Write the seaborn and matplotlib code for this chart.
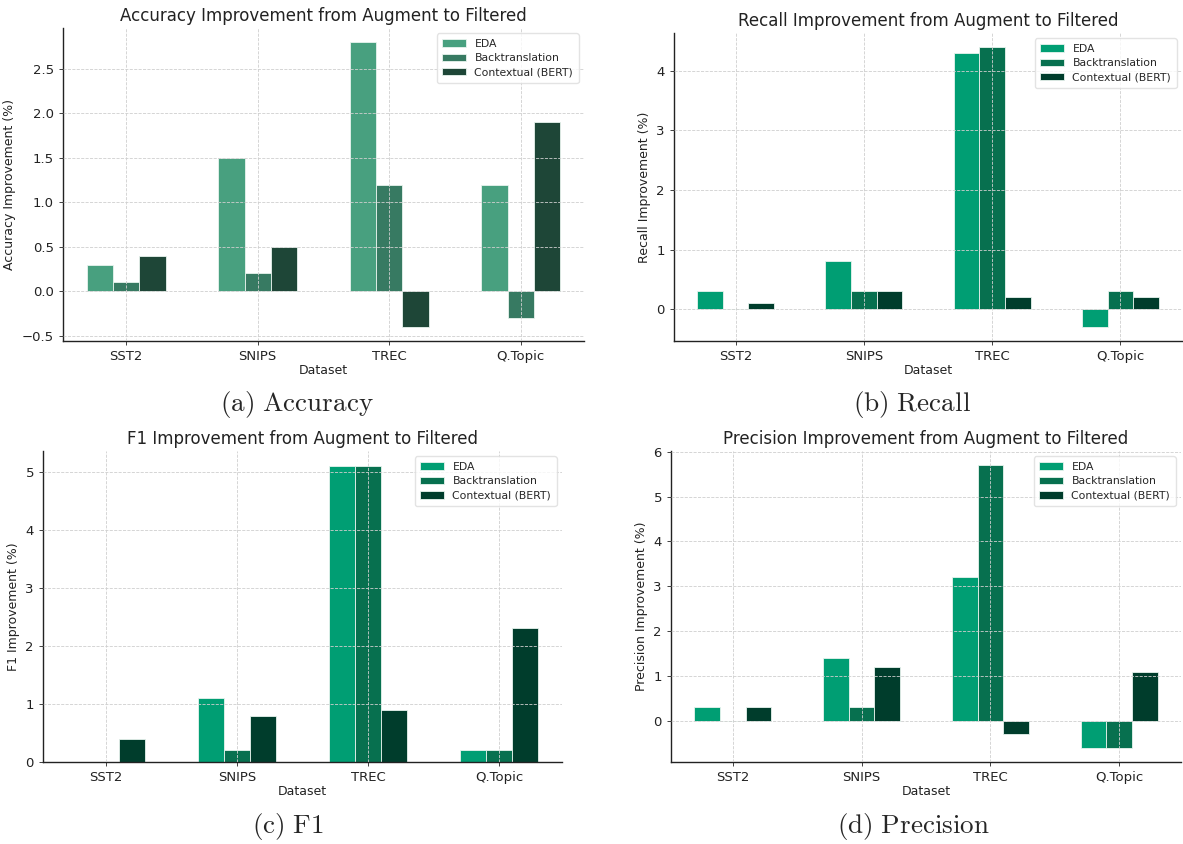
import numpy as np
import pandas as pd
import matplotlib
matplotlib.use("Agg")
import matplotlib.pyplot as plt
import seaborn as sns

# Data
datasets = ["SST2", "SNIPS", "TREC", "Q.Topic"]
methods = ["EDA", "Backtranslation", "Contextual (BERT)"]

acc_eda = [0.3, 1.5, 2.8, 1.2]
acc_bt = [0.1, 0.2, 1.2, -0.3]
acc_bert = [0.4, 0.5, -0.4, 1.9]

rec_eda = [0.3, 0.8, 4.3, -0.3]
rec_bt = [0.0, 0.3, 4.4, 0.3]
rec_bert = [0.1, 0.3, 0.2, 0.2]

f1_eda = [0.0, 1.1, 5.1, 0.2]
f1_bt = [0.0, 0.2, 5.1, 0.2]
f1_bert = [0.4, 0.8, 0.9, 2.3]

prec_eda = [0.3, 1.4, 3.2, -0.6]
prec_bt = [0.0, 0.3, 5.7, -0.6]
prec_bert = [0.3, 1.2, -0.3, 1.1]

acc_colors = ["#48A07F", "#377A62", "#1E4637"]
main_colors = ["#009E73", "#07704F", "#003D2C"]

sns.set_style("ticks")
plt.rcParams["font.family"] = ["DejaVu Sans"]
plt.rcParams["mathtext.fontset"] = "cm"

fig = plt.figure(figsize=(11.83, 8.44), dpi=100)
W, H = 1183, 844


def add_axes(left, right, top, bottom):
    return fig.add_axes([left / W, 1 - bottom / H, (right - left) / W, (bottom - top) / H])


panels = [
    # (box, title, ylabel, series, colors, caption, caption xy)
    ((63, 584, 28, 341), "Accuracy Improvement from Augment to Filtered", "Accuracy Improvement (%)",
     (acc_eda, acc_bt, acc_bert), acc_colors, r"$\mathrm{(a)\ Accuracy}$", (297, 405)),
    ((674, 1182, 33, 341), "Recall Improvement from Augment to Filtered", "Recall Improvement (%)",
     (rec_eda, rec_bt, rec_bert), main_colors, r"$\mathrm{(b)\ Recall}$", (912, 405)),
    ((43, 562, 451, 762), "F1 Improvement from Augment to Filtered", "F1 Improvement (%)",
     (f1_eda, f1_bt, f1_bert), main_colors, r"$\mathrm{(c)\ F1}$", (288, 827)),
    ((671, 1181, 451, 762), "Precision Improvement from Augment to Filtered", "Precision Improvement (%)",
     (prec_eda, prec_bt, prec_bert), main_colors, r"$\mathrm{(d)\ Precision}$", (913, 827)),
]

for box, title, ylabel, series, colors, caption, cxy in panels:
    ax = add_axes(*box)
    df = pd.DataFrame({
        "Dataset": np.tile(datasets, len(methods)),
        "Method": np.repeat(methods, len(datasets)),
        "Value": np.concatenate(series),
    })
    sns.barplot(data=df, x="Dataset", y="Value", hue="Method", hue_order=methods,
                palette=colors, saturation=1, width=0.6, edgecolor="#e8f4ee", linewidth=0.6,
                errorbar=None, ax=ax, zorder=1)
    ax.set_xlim(-0.48, 3.48)
    ax.autoscale(axis="y")
    ax.set_axisbelow(False)
    ax.grid(True, linestyle="--", color="#cfcfcf", linewidth=0.6, zorder=3)
    sns.despine(ax=ax)
    for s in ["left", "bottom"]:
        ax.spines[s].set_linewidth(1.0)
        ax.spines[s].set_color("#222222")
    ax.tick_params(labelsize=9.5, length=3, width=0.6, colors="#222222")
    ax.set_title(title, fontsize=12, color="#222222", pad=5)
    ax.set_xlabel("Dataset", fontsize=9, color="#222222", labelpad=1)
    ax.set_ylabel(ylabel, fontsize=9, color="#222222")
    ax.legend(loc="upper right", fontsize=7.8, frameon=True, edgecolor="#dddddd",
              handlelength=2.2, borderpad=0.5, labelspacing=0.4)
    fig.text(cxy[0] / W, 1 - cxy[1] / H, caption, fontsize=19.5, ha="center", va="center")

fig.savefig("out.png", dpi=100, facecolor="white")
